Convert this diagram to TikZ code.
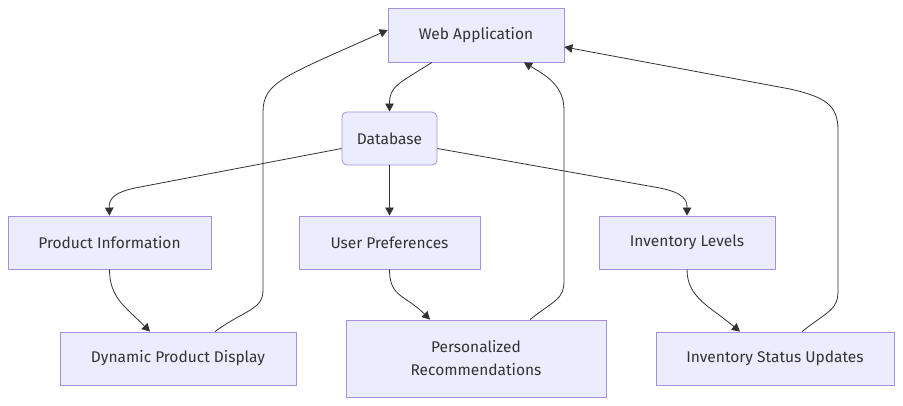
\documentclass[tikz,border=0pt]{standalone}
\usepackage{fontspec}
\setmainfont{Fira Sans}
\usetikzlibrary{arrows.meta}
\definecolor{nodefill}{HTML}{ECECFF}
\definecolor{nodeline}{HTML}{A78FDF}
\definecolor{edgeline}{HTML}{333333}
\tikzset{
  box/.style={draw=nodeline, fill=nodefill, line width=0.8pt, inner sep=0pt, font=\fontsize{15.5}{23}\selectfont, text=edgeline, align=center},
  edge/.style={draw=edgeline, line width=0.8pt, -{Triangle[length=8pt,width=8.5pt]}},
}
\begin{document}
\begin{tikzpicture}[x=1pt,y=-1pt]
\useasboundingbox (0,0) rectangle (903,406);
\node[box, minimum width=176pt, minimum height=54pt] (web) at (476,35) {Web Application};
\node[box, rounded corners=5pt, minimum width=95pt, minimum height=53pt] (db) at (389.5,138.5) {Database};
\node[box, minimum width=203pt, minimum height=53pt] (pi) at (109.5,242.5) {Product Information};
\node[box, minimum width=181pt, minimum height=53pt] (up) at (389.5,242.5) {User Preferences};
\node[box, minimum width=176pt, minimum height=53pt] (il) at (687,242.5) {Inventory Levels};
\node[box, minimum width=236pt, minimum height=53pt] (dpd) at (178,358.5) {Dynamic Product Display};
\node[box, minimum width=260pt, minimum height=77pt] (pr) at (476,358.5) {Personalized\\Recommendations};
\node[box, minimum width=238pt, minimum height=53pt] (isu) at (775,358.5) {Inventory Status Updates};

\coordinate (c8a) at (263,290);
\coordinate (c8b) at (263,112);
\coordinate (c9a) at (564,280);
\coordinate (c9b) at (564,110);
\coordinate (c10a) at (838,290);
\coordinate (c10b) at (838,130);

% Web -> Database
\draw[edge] ([xshift=-44pt]web.south) .. controls +(-35,22) and +(0,-25) .. (db.north);
% Database -> Product Information
\draw[edge] ([yshift=-10pt]db.west) -- (135,188) .. controls (112,193) and (109,200) .. (pi.north);
% Database -> User Preferences
\draw[edge] (db.south) -- (up.north);
% Database -> Inventory Levels
\draw[edge] ([yshift=-10pt]db.east) -- (660,188) .. controls (684,193) and (687,200) .. (il.north);
% Product Information -> Dynamic Product Display
\draw[edge] (pi.south) .. controls +(0,28) and +(-25,-25) .. ([xshift=-28pt]dpd.north);
% User Preferences -> Personalized Recommendations
\draw[edge] (up.south) .. controls +(0,28) and +(-25,-25) .. ([xshift=-46pt]pr.north);
% Inventory Levels -> Inventory Status Updates
\draw[edge] (il.south) .. controls +(0,28) and +(-30,-25) .. ([xshift=-35pt]isu.north);
% Dynamic Product Display -> Web Application
\draw[edge] ([xshift=37pt]dpd.north) .. controls +(30,-22) and (263,310) .. (c8a) -- (c8b) .. controls (263,82) and (285,76) .. ([yshift=5pt]web.west);
% Personalized Recommendations -> Web Application
\draw[edge] ([xshift=54pt]pr.north) .. controls +(25,-20) and (564,300) .. (c9a) -- (c9b) .. controls (564,85) and (545,75) .. ([xshift=48pt]web.south);
% Inventory Status Updates -> Web Application
\draw[edge] ([xshift=27pt]isu.north) .. controls +(28,-22) and (838,310) .. (c10a) -- (c10b) .. controls (838,105) and (825,97) .. (790,89) -- ([yshift=-12pt]web.east);
\end{tikzpicture}
\end{document}
